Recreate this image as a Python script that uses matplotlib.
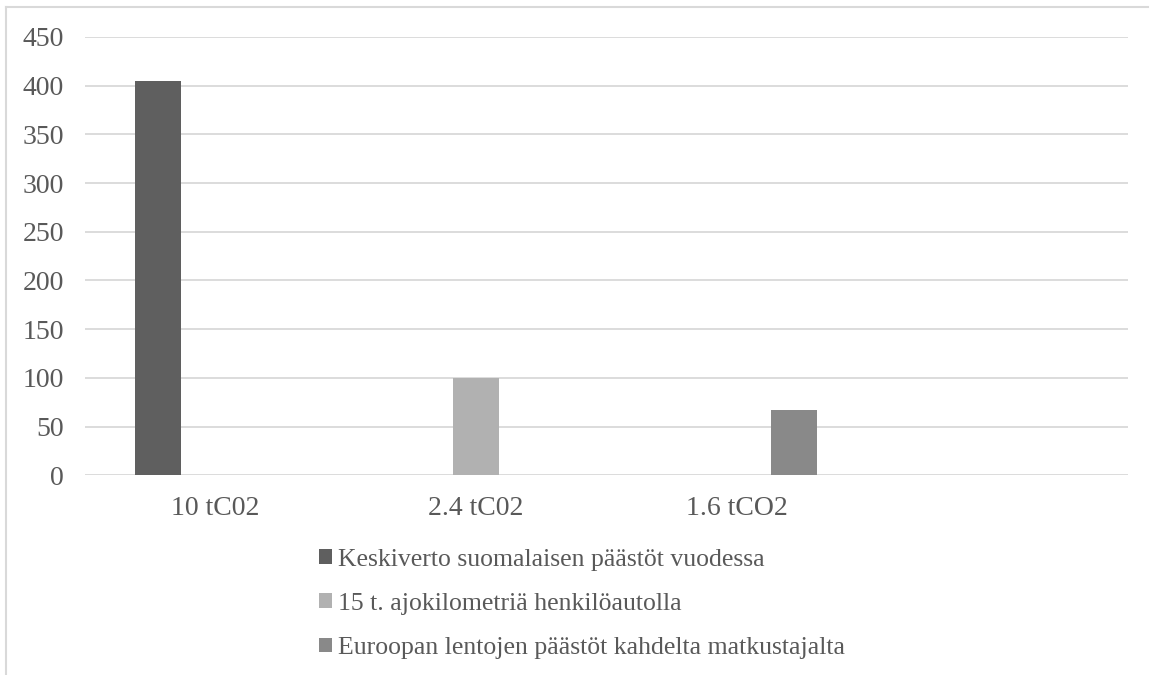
import matplotlib
matplotlib.use("Agg")
import matplotlib.pyplot as plt
import numpy as np

plt.rcParams["font.family"] = ["Liberation Serif", "DejaVu Serif"]

categories = ["10 tC02", "2.4 tC02", "1.6 tCO2", ""]
series_names = [
    "Keskiverto suomalaisen päästöt vuodessa",
    "15 t. ajokilometriä henkilöautolla",
    "Euroopan lentojen päästöt kahdelta matkustajalta",
]
series_values = [
    [405, 0, 0, 0],
    [0, 100, 0, 0],
    [0, 0, 66.7, 0],
]
series_colors = ["#5f5f5f", "#b1b1b1", "#898989"]
y_ticks = [0, 50, 100, 150, 200, 250, 300, 350, 400, 450]

text_color = "#595959"
grid_color = "#d9d9d9"

fig = plt.figure(figsize=(11.55, 6.75), dpi=100)
ax = fig.add_axes([0.0736, 0.2959, 0.903, 0.6493])

x = np.arange(len(categories))
bar_w = 0.176
step = 0.22
for i, (name, vals, col) in enumerate(zip(series_names, series_values, series_colors)):
    ax.bar(x + (i - 1) * step, vals, width=bar_w, color=col, label=name, zorder=3)

ax.set_xlim(-0.5, len(categories) - 0.5)
ax.set_ylim(0, 450)
ax.set_yticks(y_ticks)
ax.set_xticks(x)
ax.set_xticklabels(categories)
ax.yaxis.grid(True, color=grid_color, linewidth=1.3, zorder=0)
ax.tick_params(axis="both", length=0, labelsize=20, colors=text_color)
ax.tick_params(axis="y", pad=15)
ax.tick_params(axis="x", pad=15)
for s in ax.spines.values():
    s.set_visible(False)

# outer chart frame (left and top edge)
fig.add_artist(plt.Line2D([6 / 1155, 6 / 1155], [0, 1 - 7 / 675], color=grid_color, lw=1.5))
fig.add_artist(plt.Line2D([6 / 1155, 1148 / 1155], [1 - 7 / 675, 1 - 7 / 675], color=grid_color, lw=1.5))

leg = fig.legend(
    loc="upper left",
    bbox_to_anchor=(0.276, 0.187),
    frameon=False,
    fontsize=18.5,
    handlelength=0.5,
    handleheight=0.5,
    handletextpad=0.25,
    labelspacing=0.86,
    borderaxespad=0,
    borderpad=0,
)
for t in leg.get_texts():
    t.set_color(text_color)

fig.savefig("out.png", dpi=100)
